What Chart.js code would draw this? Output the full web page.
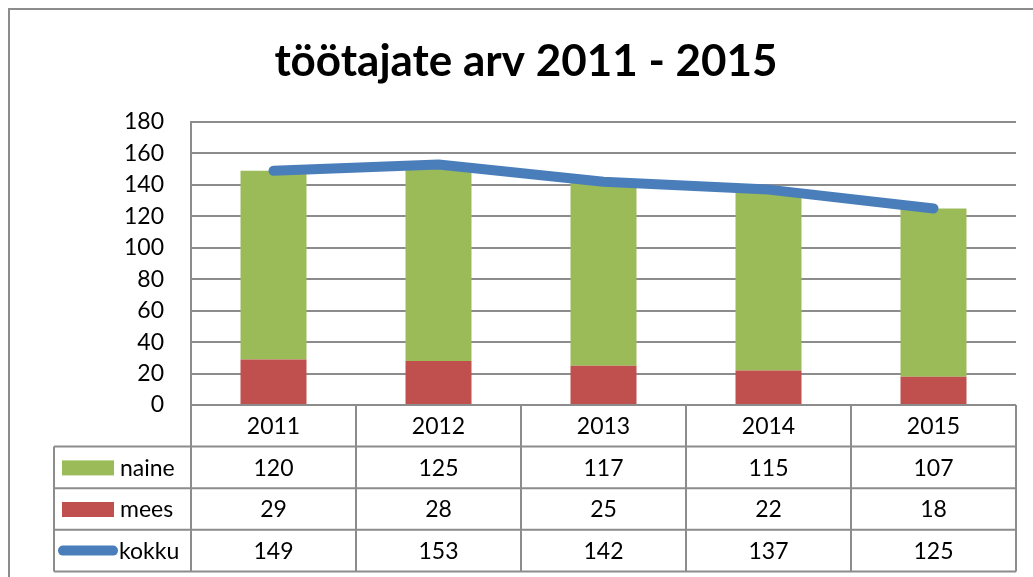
<!DOCTYPE html>
<html>
<head>
<meta charset="utf-8">
<script src="https://cdn.jsdelivr.net/npm/chart.js@4"></script>
<style>
  html, body { margin: 0; padding: 0; background: #fff; overflow: hidden; }
  #wrap { position: relative; width: 1033px; height: 577px; }
  #frame { position: absolute; left: 8px; top: 8px; width: 1200px; height: 800px; border: 2px solid #8c8c8c; box-sizing: border-box; }
  canvas { position: absolute; left: 0; top: 0; }
</style>
</head>
<body>
<div id="wrap">
  <div id="frame"></div>
  <canvas id="c" width="1033" height="577"></canvas>
</div>
<script>
const categories = ['2011', '2012', '2013', '2014', '2015'];
const naine = [120, 125, 117, 115, 107];
const mees = [29, 28, 25, 22, 18];
const kokku = [149, 153, 142, 137, 125];
const yTicks = [0, 20, 40, 60, 80, 100, 120, 140, 160, 180];

const FONT = 'Lato, Calibri, Carlito, sans-serif';
const GRID = '#8c8c8c';
const C_NAINE = '#9BBB59', C_MEES = '#C0504D', C_KOKKU = '#4A7EBB';

const tableRows = [
  { label: 'naine', values: naine, color: C_NAINE, kind: 'box' },
  { label: 'mees', values: mees, color: C_MEES, kind: 'box' },
  { label: 'kokku', values: kokku, color: C_KOKKU, kind: 'line' }
];

const TABLE_LEFT = 54;
const ROW_H = 41.6;

const dataTable = {
  id: 'dataTable',
  afterDraw(chart) {
    const ctx = chart.ctx;
    const x = chart.scales.x;
    const area = chart.chartArea;
    const n = categories.length;
    const half = (x.getPixelForValue(1) - x.getPixelForValue(0)) / 2;
    const top = area.bottom;
    ctx.save();
    ctx.strokeStyle = GRID;
    ctx.lineWidth = 2;
    const rowsY = [];
    for (let r = 0; r <= tableRows.length + 1; r++) rowsY.push(top + r * ROW_H);
    ctx.beginPath();
    for (let r = 1; r < rowsY.length; r++) {
      ctx.moveTo(TABLE_LEFT, rowsY[r]);
      ctx.lineTo(area.right, rowsY[r]);
    }
    for (let i = 0; i <= n; i++) {
      const px = i < n ? x.getPixelForValue(i) - half : x.getPixelForValue(n - 1) + half;
      ctx.moveTo(px, rowsY[0]);
      ctx.lineTo(px, rowsY[rowsY.length - 1]);
    }
    ctx.moveTo(TABLE_LEFT, rowsY[1]);
    ctx.lineTo(TABLE_LEFT, rowsY[rowsY.length - 1]);
    ctx.stroke();

    ctx.fillStyle = '#000';
    ctx.font = '23px ' + FONT;
    ctx.textAlign = 'center';
    ctx.textBaseline = 'middle';
    categories.forEach((c, i) => {
      ctx.fillText(c, x.getPixelForValue(i), rowsY[0] + ROW_H / 2 + 1);
    });
    tableRows.forEach((row, r) => {
      const cy = rowsY[r + 1] + ROW_H / 2 + 1;
      row.values.forEach((v, i) => {
        ctx.fillStyle = '#000';
        ctx.textAlign = 'center';
        ctx.fillText(String(v), x.getPixelForValue(i), cy);
      });
      if (row.kind === 'box') {
        ctx.fillStyle = row.color;
        ctx.fillRect(62, cy - 8, 52, 15);
      } else {
        ctx.strokeStyle = row.color;
        ctx.lineWidth = 10;
        ctx.lineCap = 'round';
        ctx.beginPath();
        ctx.moveTo(63, cy - 1);
        ctx.lineTo(113, cy - 1);
        ctx.stroke();
      }
      ctx.fillStyle = '#000';
      ctx.textAlign = 'left';
      ctx.fillText(row.label, row.kind === 'box' ? 120 : 119, cy);
    });
    ctx.restore();
  }
};

new Chart(document.getElementById('c'), {
  data: {
    labels: categories,
    datasets: [
      {
        type: 'line', label: 'kokku', data: kokku, stack: 'total', order: 0,
        borderColor: C_KOKKU, backgroundColor: C_KOKKU, borderWidth: 10,
        pointRadius: 0, borderCapStyle: 'round', borderJoinStyle: 'round', tension: 0
      },
      { type: 'bar', label: 'mees', data: mees, stack: 'bars', order: 1, backgroundColor: C_MEES },
      { type: 'bar', label: 'naine', data: naine, stack: 'bars', order: 1, backgroundColor: C_NAINE }
    ]
  },
  options: {
    responsive: false,
    animation: false,
    events: [],
    datasets: { bar: { categoryPercentage: 1, barPercentage: 0.4 } },
    layout: { padding: { left: 36, right: 17, top: 0, bottom: 0 } },
    plugins: {
      legend: { display: false },
      tooltip: { enabled: false },
      title: {
        display: true,
        text: 'töötajate arv 2011 - 2015',
        color: '#000',
        font: { family: FONT, size: 44, weight: 'bold', lineHeight: 1.2 },
        padding: { top: 35.6, bottom: 33.6 }
      }
    },
    scales: {
      x: {
        stacked: true,
        offset: true,
        grid: { display: false, drawTicks: false },
        border: { display: false },
        ticks: { display: false },
        afterFit(s) { s.height = 172; }
      },
      y: {
        stacked: true,
        min: 0, max: 180,
        afterBuildTicks(s) { s.ticks = yTicks.map(v => ({ value: v })); },
        grid: { color: GRID, lineWidth: 2, drawTicks: false },
        border: { display: true, color: GRID, width: 2 },
        ticks: { color: '#000', padding: 27, font: { family: FONT, size: 23 } },
        afterFit(s) { s.width = 155; }
      }
    }
  },
  plugins: [dataTable]
});
</script>
</body>
</html>
